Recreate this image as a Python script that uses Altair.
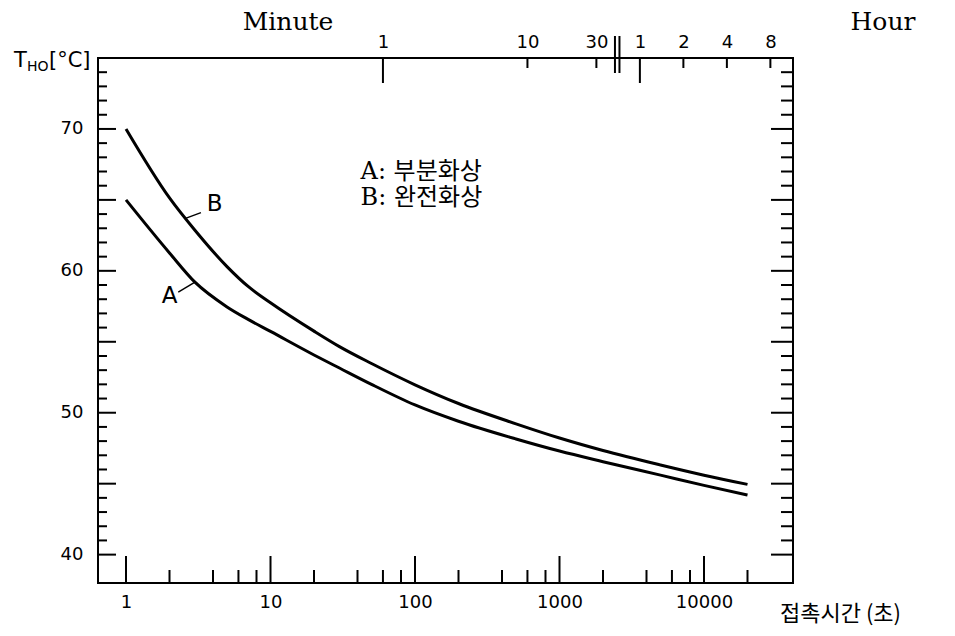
import altair as alt
import pandas as pd

# ---- values ----
time_s = [1, 2, 3, 5, 7, 10, 20, 30, 50, 100, 200, 500, 1000, 2000, 5000, 10000, 20000]
temp_A = [65.0, 61.26, 59.2, 57.46, 56.58, 55.73, 54.07, 53.15, 52.0, 50.55, 49.4, 48.15,
          47.3, 46.55, 45.6, 44.88, 44.2]
temp_B = [70.0, 65.14, 62.86, 60.3, 58.9, 57.75, 55.75, 54.66, 53.47, 51.97, 50.65, 49.22,
          48.22, 47.34, 46.32, 45.6, 44.95]

bottom_major = [1, 10, 100, 1000, 10000]
bottom_minor = [2, 4, 6, 8, 20, 40, 60, 80, 200, 400, 600, 800,
                2000, 4000, 6000, 8000, 20000]
left_labels = [40, 50, 60, 70]
y_major = [40, 45, 50, 55, 60, 65, 70]
y_minor = [41, 42, 43, 44, 46, 47, 48, 49, 51, 52, 53, 54, 56, 57, 58, 59,
           61, 62, 63, 64, 66, 67, 68, 69, 71, 72, 73, 74]
top_major_sec = [60, 3600]
top_minor_sec = [600, 1800, 7200, 14400, 28800]
top_label_sec = [60, 600, 1800, 3600, 7200, 14400, 28800]
break_sec = [2420, 2600]

curve_names = ["A", "B"]
curve_label_t = [2.0, 4.1]
curve_label_T = [58.2, 64.7]
leader_from_t = [3.0, 2.58]
leader_from_T = [59.2, 63.7]
leader_to_t = [2.3, 3.3]
leader_to_T = [58.5, 64.1]

legend_lines = ["A: 부분화상", "B: 완전화상"]
legend_t = [42, 42]
legend_T = [67.0, 65.1]

W, H = 695, 525
SANS = "DejaVu Sans"
SERIF_KR = "DejaVu Serif, Noto Sans CJK KR"

xs = alt.Scale(type="log", domain=[0.64, 41300], nice=False)
ys = alt.Scale(domain=[38, 75], nice=False, zero=False)

curves = pd.DataFrame({
    "t": time_s + time_s,
    "T": temp_A + temp_B,
    "curve": ["A"] * len(time_s) + ["B"] * len(time_s),
})

lines = alt.Chart(curves).mark_line(
    color="black", strokeWidth=3, interpolate="monotone").encode(
    x=alt.X("t:Q", scale=xs, axis=alt.Axis(
        orient="bottom", values=bottom_major, format="d", ticks=False, tickSize=0,
        domain=False, grid=False, labelFontSize=18, labelFont=SANS,
        labelColor="black", labelPadding=10, labelFlush=False,
        labelOverlap=False, title=None)),
    y=alt.Y("T:Q", scale=ys, axis=alt.Axis(
        orient="left", values=left_labels, ticks=False, tickSize=0, domain=False,
        grid=False, labelFontSize=18, labelFont=SANS, labelColor="black",
        labelPadding=15, labelFlush=False, labelOverlap=False, title=None)),
    detail="curve:N",
)


def xticks(vals, y0, y1, top_axis=None):
    return alt.Chart(pd.DataFrame({"t": vals})).mark_rule(
        color="black", strokeWidth=2).encode(
        x=alt.X("t:Q", scale=xs, axis=top_axis),
        y=alt.value(y0), y2=alt.value(y1))


def yticks(vals, x0, x1):
    return alt.Chart(pd.DataFrame({"T": vals})).mark_rule(
        color="black", strokeWidth=2).encode(
        y=alt.Y("T:Q", scale=ys, axis=None),
        x=alt.value(x0), x2=alt.value(x1))


top_axis = alt.Axis(
    orient="top", values=top_label_sec,
    labelExpr="datum.value < 3000 ? format(datum.value / 60, 'd') : format(datum.value / 3600, 'd')",
    ticks=False, tickSize=0, domain=False, grid=False, labelFontSize=18,
    labelFont=SANS, labelColor="black", labelPadding=7, labelFlush=False,
    labelOverlap=False, title=None)

tick_layers = [
    xticks(bottom_major, H, H - 27),
    xticks(bottom_minor, H, H - 13),
    xticks(top_major_sec, 0, 25, top_axis),
    xticks(top_minor_sec, 0, 10),
    yticks(y_major, 0, 18),
    yticks(y_minor, 0, 9),
    yticks(y_major, W, W - 22),
    yticks(y_minor, W, W - 12),
]

breaks = alt.Chart(pd.DataFrame({"t": break_sec})).mark_rule(
    color="black", strokeWidth=2).encode(
    x=alt.X("t:Q", scale=xs, axis=None), y=alt.value(-22), y2=alt.value(15))

leaders = alt.Chart(pd.DataFrame({
    "t": leader_from_t, "T": leader_from_T,
    "t2": leader_to_t, "T2": leader_to_T})).mark_rule(
    color="black", strokeWidth=1.5).encode(
    x=alt.X("t:Q", scale=xs, axis=None), y=alt.Y("T:Q", scale=ys, axis=None),
    x2="t2:Q", y2="T2:Q")

curve_labels = alt.Chart(pd.DataFrame({
    "t": curve_label_t, "T": curve_label_T, "name": curve_names})).mark_text(
    font=SANS, fontSize=23, color="black", align="center", baseline="middle").encode(
    x=alt.X("t:Q", scale=xs, axis=None), y=alt.Y("T:Q", scale=ys, axis=None),
    text="name:N")

legend = alt.Chart(pd.DataFrame({
    "t": legend_t, "T": legend_T, "txt": legend_lines})).mark_text(
    font=SERIF_KR, fontSize=24, color="black", align="left", baseline="middle").encode(
    x=alt.X("t:Q", scale=xs, axis=None), y=alt.Y("T:Q", scale=ys, axis=None),
    text="txt:N")


def label(text, x, y, size, font, align="center"):
    return alt.Chart(alt.Data(values=[{}])).mark_text(
        text=text, fontSize=size, font=font, align=align, baseline="middle",
        color="black").encode(x=alt.value(x), y=alt.value(y))


texts = [
    label("Minute", 190, -36, 25, "DejaVu Serif"),
    label("Hour", 785, -36, 25, "DejaVu Serif"),
    label("T", -84, 3, 21, SANS, "left"),
    label("HO", -71, 9, 14, SANS, "left"),
    label("[°C]", -49, 3, 21, SANS, "left"),
    label("접촉시간 (초)", 682, 556, 22, "Noto Sans CJK KR", "left"),
]

chart = alt.layer(lines, *tick_layers, breaks, leaders, curve_labels, legend, *texts).resolve_axis(
    x="independent", y="independent"
).properties(
    width=W, height=H,
    padding={"left": 90, "top": 50, "right": 152, "bottom": 45},
    autosize=alt.AutoSizeParams(type="none"),
).configure_view(stroke="black", strokeWidth=2)

chart.save("out.html", embed_options={"renderer": "svg", "actions": False})
